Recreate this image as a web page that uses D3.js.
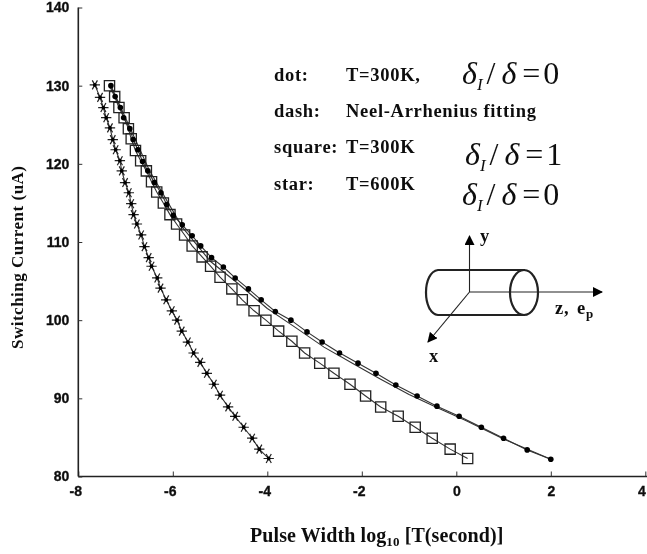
<!DOCTYPE html>
<html>
<head>
<meta charset="utf-8">
<script src="https://cdn.jsdelivr.net/npm/d3@7"></script>
<style>
  html, body { margin: 0; padding: 0; background: #fff; overflow: hidden; }
  text { fill: #111; }
  .tick text { font-family: "Liberation Sans", sans-serif; font-weight: bold; font-size: 14px; stroke: #111; stroke-width: 0.35px; }
  .note { font-family: "Liberation Serif", serif; font-weight: bold; font-size: 18.5px; letter-spacing: 0.7px; }
  .formula { font-family: "Liberation Serif", serif; font-size: 32px; }
</style>
</head>
<body>
<svg id="chart" width="647" height="554"></svg>
<script>
const xTicks = [-8, -6, -4, -2, 0, 2, 4]
const yTicks = [80, 90, 100, 110, 120, 130, 140]

// dot: T=300K, delta_I / delta = 0
const dotX = [-7.31, -7.22, -7.11, -7.04, -6.91, -6.84, -6.74, -6.64, -6.53, -6.39, -6.25, -6.13, -5.99, -5.8, -5.59, -5.41, -5.18, -4.93, -4.68, -4.4, -4.13, -3.83, -3.5, -3.16, -2.84, -2.47, -2.08, -1.7, -1.28, -0.83, -0.41, 0.06, 0.53, 1.0, 1.5, 2.0]
const dotY = [130, 128.6, 127.2, 125.9, 124.5, 123.1, 121.8, 120.3, 119.1, 117.6, 116.3, 114.8, 113.4, 112.2, 110.8, 109.5, 108, 106.8, 105.4, 104, 102.6, 101.1, 100, 98.5, 97.2, 95.8, 94.5, 93.2, 91.7, 90.3, 89, 87.7, 86.3, 84.9, 83.4, 82.2]

// dash: Neel-Arrhenius fitting of the dots
const fitX = [-7.31, -6.5, -5.8, -5.2, -4.6, -4, -3.4, -2.8, -2.2, -1.6, -1, -0.4, 0.2, 1, 2]
const fitY = [130, 119.2, 111.9, 107.5, 104.6, 101.5, 99.05, 96.55, 94.5, 92.45, 90.5, 88.8, 87.15, 84.8, 82.2]

// square: T=300K, delta_I / delta = 1
const squareX = [-7.34, -7.23, -7.14, -7.03, -6.94, -6.88, -6.79, -6.68, -6.56, -6.45, -6.34, -6.2, -6.06, -5.92, -5.75, -5.59, -5.38, -5.2, -5, -4.75, -4.53, -4.28, -4.03, -3.76, -3.48, -3.21, -2.89, -2.59, -2.25, -1.92, -1.6, -1.23, -0.87, -0.51, -0.13, 0.24]
const squareY = [130, 128.6, 127.2, 125.9, 124.5, 123.2, 121.7, 120.4, 119.1, 117.7, 116.4, 115, 113.5, 112.3, 110.9, 109.5, 108.1, 106.9, 105.5, 104, 102.6, 101.2, 100, 98.6, 97.3, 95.8, 94.5, 93.2, 91.8, 90.3, 88.9, 87.7, 86.3, 84.9, 83.5, 82.3]

// star: T=600K, delta_I / delta = 0
const starX = [-7.65, -7.54, -7.47, -7.41, -7.33, -7.27, -7.21, -7.12, -7.08, -7.01, -6.93, -6.88, -6.83, -6.76, -6.67, -6.6, -6.51, -6.45, -6.33, -6.26, -6.14, -6.02, -5.91, -5.81, -5.68, -5.56, -5.42, -5.28, -5.13, -5, -4.83, -4.68, -4.5, -4.32, -4.17, -3.97]
const starY = [130.1, 128.5, 127.2, 125.9, 124.6, 123.1, 121.8, 120.4, 119.1, 117.6, 116.3, 114.9, 113.5, 112.3, 110.9, 109.4, 108, 106.9, 105.4, 104.1, 102.6, 101.2, 100, 98.6, 97.2, 95.8, 94.6, 93.2, 91.8, 90.4, 88.9, 87.7, 86.3, 84.9, 83.5, 82.3]

const svg = d3.select('#chart')

// The reference is a soft scan, so everything gets a very slight blur
svg.append('defs').append('filter')
  .attr('id', 'soft')
  .append('feGaussianBlur').attr('stdDeviation', 0.35)
const root = svg.append('g').attr('filter', 'url(#soft)')

const x = d3.scaleLinear().domain([-8, 4]).range([78.3, 645.3])
const y = d3.scaleLinear().domain([80, 140]).range([476.5, 7.5])

const line = d3.line().x(d => x(d[0])).y(d => y(d[1]))
const zipped = (xs, ys) => xs.map((v, i) => [v, ys[i]])

// Axes, ticks point inward like the original
const xAxis = root.append('g')
  .attr('transform', `translate(0, ${y(80)})`)
  .call(d3.axisBottom(x).tickValues(xTicks).tickFormat(d => String(d)).tickSizeInner(-5).tickSizeOuter(0).tickPadding(10))
// negative labels sit a bit left, the last one is pulled in so it stays on the page
xAxis.selectAll('text').attr('dx', d => d < 0 ? -3 : d === 4 ? -4 : 0)
xAxis.select('.domain').attr('d', `M${x(-8)},0H647`)

const yAxis = root.append('g')
  .attr('transform', `translate(${x(-8)}, 0)`)
  .call(d3.axisLeft(y).tickValues(yTicks).tickFormat(d => String(d)).tickSizeInner(-4).tickSizeOuter(0).tickPadding(9))
yAxis.select('.domain').attr('d', `M0,${y(140)}V${y(80)}`)
root.selectAll('.domain').attr('stroke', '#222').attr('stroke-width', 1.6)
root.selectAll('.tick line').attr('stroke', '#333')

// Lines
const series = [[dotX, dotY], [fitX, fitY], [squareX, squareY], [starX, starY]]
root.append('g').selectAll('path')
  .data(series)
  .enter().append('path')
  .attr('d', d => line(zipped(d[0], d[1])))
  .attr('fill', 'none')
  .attr('stroke', '#333')
  .attr('stroke-width', 1.1)

// Markers
root.append('g').selectAll('path')
  .data(zipped(squareX, squareY))
  .enter().append('path')
  .attr('d', d3.symbol().type(d3.symbolSquare).size(105))
  .attr('transform', d => `translate(${x(d[0])}, ${y(d[1])})`)
  .attr('fill', 'none')
  .attr('stroke', '#222')
  .attr('stroke-width', 1.3)

root.append('g').selectAll('circle')
  .data(zipped(dotX, dotY))
  .enter().append('circle')
  .attr('cx', d => x(d[0]))
  .attr('cy', d => y(d[1]))
  .attr('r', 2.8)
  .attr('fill', '#000')

const stars = root.append('g').selectAll('g')
  .data(zipped(starX, starY))
  .enter().append('g')
  .attr('transform', d => `translate(${x(d[0])}, ${y(d[1])}) rotate(90)`)
stars.append('path')
  .attr('d', d3.symbol().type(d3.symbolAsterisk).size(75))
  .attr('fill', 'none')
  .attr('stroke', '#222')
  .attr('stroke-width', 1.2)
stars.append('circle').attr('r', 1.9).attr('fill', '#000')

// Axis titles
const xTitle = root.append('text')
  .attr('x', 250).attr('y', 542)
  .attr('font-family', '"Liberation Serif", serif')
  .attr('font-weight', 'bold')
  .attr('font-size', 20)
  .attr('letter-spacing', 0.1)
xTitle.append('tspan').text('Pulse Width log')
xTitle.append('tspan').attr('dy', 4).attr('font-size', 13).text('10')
xTitle.append('tspan').attr('dy', -4).text(' [T(second)]')

root.append('text')
  .attr('transform', 'translate(23, 349) rotate(-90)')
  .attr('font-family', '"Liberation Serif", serif')
  .attr('font-weight', 'bold')
  .attr('font-size', 17)
  .attr('letter-spacing', 0.5)
  .text('Switching Current (uA)')

// Legend notes
const notes = [
  ['dot:', 274, 81], ['T=300K,', 346, 81],
  ['dash:', 274, 117], ['Neel-Arrhenius fitting', 346, 117],
  ['square:', 274, 153], ['T=300K', 346, 153],
  ['star:', 274, 190], ['T=600K', 346, 190],
]
root.append('g').selectAll('text')
  .data(notes)
  .enter().append('text')
  .attr('class', 'note')
  .attr('x', d => d[1])
  .attr('y', d => d[2])
  .text(d => d[0])

const formulas = [['0', 462, 84], ['1', 465, 165], ['0', 462, 205]]
formulas.forEach(f => {
  const t = root.append('text').attr('class', 'formula').attr('x', f[1]).attr('y', f[2])
  t.append('tspan').attr('font-style', 'italic').text('δ')
  t.append('tspan').attr('font-style', 'italic').attr('font-size', 17).attr('dy', 6).text('I')
  t.append('tspan').attr('dy', -6).attr('dx', 4).text('/')
  t.append('tspan').attr('dx', 6).attr('font-style', 'italic').text('δ')
  t.append('tspan').attr('dx', 6).text('=')
  t.append('tspan').attr('dx', 3).text(f[0])
})

// Cylinder sketch
const sketch = root.append('g').attr('fill', 'none').attr('stroke', '#222')
svg.select('defs').append('marker')
  .attr('id', 'arrow').attr('viewBox', '0 0 10 10').attr('refX', 9).attr('refY', 5)
  .attr('markerWidth', 10).attr('markerHeight', 10).attr('markerUnits', 'userSpaceOnUse').attr('orient', 'auto')
  .append('path').attr('d', 'M0,0L10,5L0,10Z').attr('fill', '#000')
sketch.append('path')
  .attr('d', 'M525,270H438C422,272 422,313 438,315H525')
  .attr('stroke-width', 2.2)
sketch.append('ellipse')
  .attr('cx', 524).attr('cy', 292.5).attr('rx', 14).attr('ry', 22.5)
  .attr('stroke-width', 2.2)
const arrows = [[469.5, 292, 469.5, 236], [469.5, 292, 602, 292], [469.5, 292, 428, 342]]
sketch.selectAll('line').data(arrows).enter().append('line')
  .attr('x1', d => d[0]).attr('y1', d => d[1]).attr('x2', d => d[2]).attr('y2', d => d[3])
  .attr('stroke-width', 1.1)
  .attr('marker-end', 'url(#arrow)')
const sketchLabels = [['y', 480, 242], ['x', 429, 362], ['z,', 555, 314]]
root.append('g').selectAll('text').data(sketchLabels).enter().append('text')
  .attr('class', 'note')
  .attr('x', d => d[1]).attr('y', d => d[2])
  .text(d => d[0])
const ep = root.append('text').attr('class', 'note').attr('x', 577).attr('y', 314)
ep.append('tspan').text('e')
ep.append('tspan').attr('dy', 4).attr('font-size', 13).text('p')
</script>
</body>
</html>
